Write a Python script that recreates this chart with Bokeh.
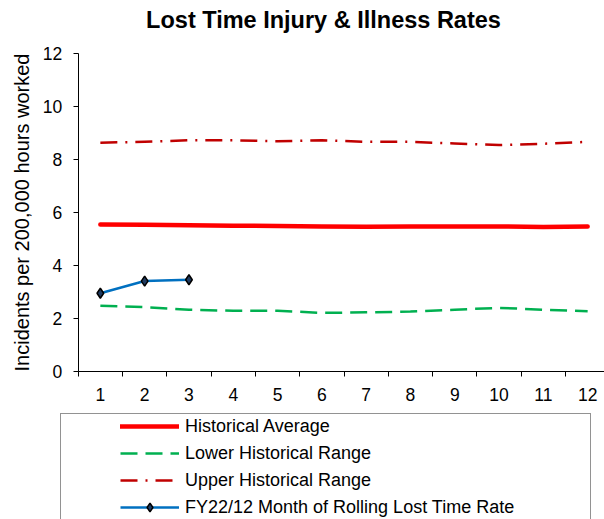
from bokeh.plotting import figure
from bokeh.models import (Range1d, FixedTicker, Legend, LegendItem, Label)
from bokeh.embed import file_html
from bokeh.resources import INLINE

# ---- data ----
months = [1, 2, 3, 4, 5, 6, 7, 8, 9, 10, 11, 12]
hist_avg = [5.54, 5.53, 5.52, 5.50, 5.49, 5.47, 5.46, 5.47, 5.47, 5.47, 5.45, 5.47]
lower = [2.48, 2.43, 2.33, 2.29, 2.29, 2.21, 2.23, 2.26, 2.33, 2.40, 2.33, 2.27]
upper = [8.63, 8.66, 8.72, 8.72, 8.68, 8.72, 8.66, 8.66, 8.60, 8.54, 8.59, 8.66]
fy22_months = [1, 2, 3]
fy22 = [2.95, 3.41, 3.46]
y_ticks = [0, 2, 4, 6, 8, 10, 12]

# ---- layout constants (pixels) ----
W, H = 604, 519
X_AXIS_PX = 77.7      # left edge of plot area (x = 0.5)
CAT_PX = 44.3         # width of one category
Y_TOP_PX = 52.8       # y = 12
Y_ZERO_PX = 371.0     # y = 0
FONT = "Liberation Sans"

x0 = months[0] - 0.5
x_start = x0 - X_AXIS_PX / CAT_PX
x_end = x_start + W / CAT_PX
ppu = (Y_ZERO_PX - Y_TOP_PX) / y_ticks[-1]
y_end = y_ticks[-1] + Y_TOP_PX / ppu
y_start = -(H - Y_ZERO_PX) / ppu

p = figure(width=W, height=H, output_backend="svg", toolbar_location=None,
           title=None, x_range=Range1d(x_start, x_end), y_range=Range1d(y_start, y_end),
           min_border=0)
p.outline_line_color = None
p.grid.visible = False

# ---- axes ----
xa = p.xaxis[0]
xa.fixed_location = 0
xa.bounds = (x0, months[-1] + 0.5)
xa.ticker = FixedTicker(ticks=months, minor_ticks=[m - 0.5 for m in months] + [months[-1] + 0.5])
xa.major_tick_out = 0
xa.major_tick_in = 0
xa.minor_tick_out = 5
xa.minor_tick_in = 0
xa.major_label_standoff = 11
xa.major_label_text_font = FONT
xa.major_label_text_font_size = "17.5px"
xa.major_label_text_color = "black"
xa.axis_line_color = "black"
xa.minor_tick_line_color = "black"

ya = p.yaxis[0]
ya.fixed_location = x0
ya.bounds = (y_ticks[0], y_ticks[-1])
ya.ticker = FixedTicker(ticks=y_ticks, minor_ticks=[])
ya.major_tick_out = 5
ya.major_tick_in = 0
ya.minor_tick_out = 0
ya.minor_tick_in = 0
ya.major_label_standoff = 11
ya.major_label_text_font = FONT
ya.major_label_text_font_size = "17.5px"
ya.major_label_text_color = "black"
ya.axis_line_color = "black"
ya.major_tick_line_color = "black"
ya.axis_label = "Incidents per 200,000 hours worked"
ya.axis_label_text_font = FONT
ya.axis_label_text_font_size = "20px"
ya.axis_label_text_font_style = "normal"
ya.axis_label_text_color = "black"
ya.axis_label_standoff = 7

# ---- title ----
p.add_layout(Label(x=323, y=H - 19.7, x_units="screen", y_units="screen",
                   text="Lost Time Injury & Illness Rates", text_font=FONT,
                   text_font_size="23.5px", text_font_style="bold",
                   text_color="black", text_align="center", text_baseline="middle"))

# ---- series ----
r_avg = p.line(months, hist_avg, line_color="#FF0000", line_width=4.5,
               line_cap="round", line_join="round")
r_low = p.line(months, lower, line_color="#00B050", line_width=2.5,
               line_dash="17 8", line_join="round")
r_up = p.line(months, upper, line_color="#C00000", line_width=2.5,
              line_dash="17 8 2 8", line_join="round")
r_fy = p.line(fy22_months, fy22, line_color="#0070C0", line_width=2.5)
r_fym = p.scatter(fy22_months, fy22, marker="diamond", size=10,
                  fill_color="#1F3A5F", line_color="black", line_width=1.5)

# ---- legend: frame box ----
dummy = p.line([months[0]], [hist_avg[0]], line_alpha=0)
box = Legend(items=[LegendItem(label=" ", renderers=[dummy])],
             location=(60, H - 415 - 130), padding=0, spacing=0, margin=0,
             glyph_width=1, label_standoff=0, label_width=528,
             glyph_height=130, label_height=130,
             border_line_color="#262626", border_line_width=1,
             background_fill_color="white", background_fill_alpha=1)
p.add_layout(box, "center")

# ---- legend: items ----
leg = Legend(items=[
    LegendItem(label="Historical Average", renderers=[r_avg]),
    LegendItem(label="Lower Historical Range", renderers=[r_low]),
    LegendItem(label="Upper Historical Range", renderers=[r_up]),
    LegendItem(label="FY22/12 Month of Rolling Lost Time Rate", renderers=[r_fy, r_fym]),
], location=(120, 1), padding=0, spacing=5, margin=0,
    glyph_width=59, glyph_height=22, label_height=22, label_standoff=6,
    label_text_font=FONT, label_text_font_size="18px", label_text_color="black",
    border_line_alpha=0, background_fill_alpha=0)
p.add_layout(leg, "center")

open("out.html", "w").write(file_html(p, INLINE))
